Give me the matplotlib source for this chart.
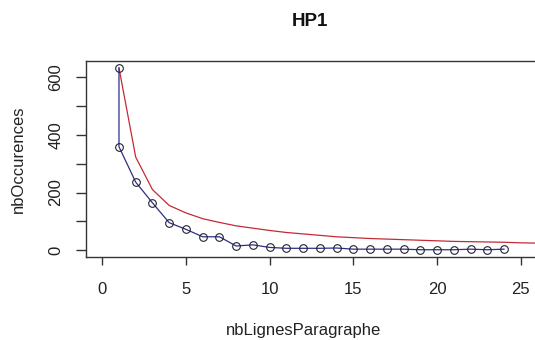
import matplotlib
matplotlib.use("Agg")
import matplotlib.pyplot as plt

plt.rcParams['font.family'] = ['Liberation Sans', 'DejaVu Sans']

# observed counts (blue, with markers)
obs_x = [1, 1, 2, 3, 4, 5, 6, 7, 8, 9, 10, 11, 12, 13, 14, 15, 16, 17, 18, 19, 20, 21, 22, 23, 24]
obs_y = [633, 359, 236, 164, 95, 72, 46, 46, 14, 18, 9, 6, 6, 6, 7, 3, 3, 3, 3, 1, 1, 1, 3, 1, 3]

# reference curve (red)
ref_x = [1, 2, 3, 4, 5, 6, 7, 8, 9, 10, 11, 12, 13, 14, 15, 16, 17, 18, 19, 20, 21, 22, 23, 24, 25, 26, 27]
ref_y = [633, 323, 210, 155, 129, 109, 96, 84, 76, 68, 61, 56, 51, 46, 43, 40, 38, 36, 34, 32, 30, 29, 28, 27, 25, 24, 23]

title = "HP1"
xlabel = "nbLignesParagraphe"
ylabel = "nbOccurences"
xticks = [0, 5, 10, 15, 20, 25]
yticks_major = [0, 200, 400, 600]
yticks_minor = [100, 300, 500]

W, H = 535, 340
fig = plt.figure(figsize=(W / 100, H / 100), dpi=100)
left, right, top, bottom = 85.5, 535.0, 60.7, 257.3
ax = fig.add_axes([left / W, 1 - bottom / H, (right - left) / W, (bottom - top) / H])

ax.plot(ref_x, ref_y, color='#c42a36', lw=0.9, zorder=2)
ax.plot(obs_x, obs_y, color='#2e2e86', lw=0.9, zorder=3)
ax.plot(obs_x, obs_y, ls='none', marker='o', ms=5.5, mfc='none', mec='#222233', mew=0.8, zorder=4)

ax.set_xlim(-1.0, 25.85)
ax.set_ylim(-25.3, 658.3)
ax.set_xticks(xticks)
ax.set_xticklabels([str(v) for v in xticks])
ax.set_yticks(yticks_major + yticks_minor)
ax.set_yticklabels([str(v) for v in yticks_major] + [''] * len(yticks_minor))

for s in ['top', 'bottom', 'left']:
    ax.spines[s].set_color('#333333')
    ax.spines[s].set_linewidth(1.0)
ax.spines['right'].set_visible(False)

ax.tick_params(axis='x', length=6, width=1.0, color='#333333', labelsize=12, pad=12, labelcolor='#222222')
ax.tick_params(axis='y', length=7, width=1.0, color='#333333', labelsize=12, pad=9, labelcolor='#222222',
               labelrotation=90)
for lab in ax.get_yticklabels():
    lab.set_va('center')

fig.text(310 / W, 1 - 22 / H, title, ha='center', va='center', fontsize=13.5, fontweight='bold', color='#111111')
fig.text(304 / W, 1 - 330 / H, xlabel, ha='center', va='center', fontsize=12, color='#222222')
fig.text(18 / W, 1 - 159 / H, ylabel, ha='center', va='center', rotation=90, fontsize=12, color='#222222')

fig.savefig("out.png", dpi=100, facecolor='white')
